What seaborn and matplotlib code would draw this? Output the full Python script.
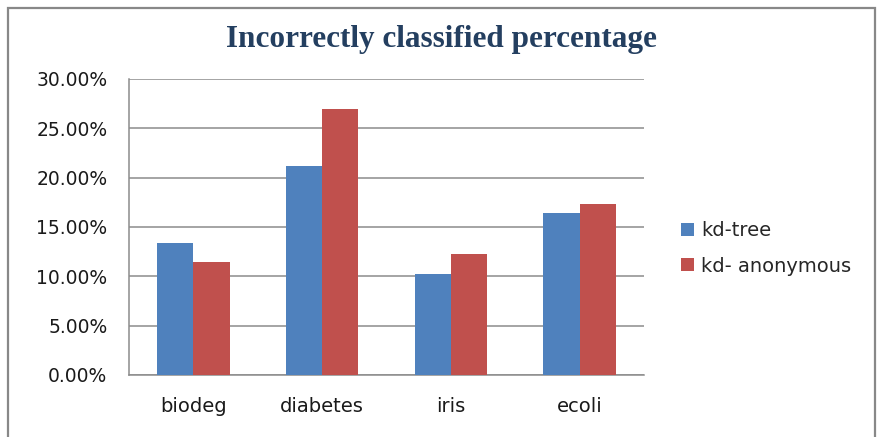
import matplotlib
matplotlib.use("Agg")
import matplotlib.pyplot as plt
import matplotlib.ticker as mticker
from matplotlib.patches import Rectangle
import seaborn as sns
import pandas as pd

# ---- data ----
categories = ["biodeg", "diabetes", "iris", "ecoli"]
series_names = ["kd-tree", "kd- anonymous"]
kd_tree = [13.4, 21.2, 10.2, 16.4]
kd_anonymous = [11.45, 27.0, 12.25, 17.3]
y_ticks = [0, 5, 10, 15, 20, 25, 30]
title_text = "Incorrectly classified percentage"

colors = ["#4F81BD", "#C0504D"]

df = pd.DataFrame({
    "category": categories * 2,
    "value": kd_tree + kd_anonymous,
    "series": [series_names[0]] * len(categories) + [series_names[1]] * len(categories),
})

sns.set_style("white")
plt.rcParams["font.family"] = ["DejaVu Sans"]

W, H = 878, 437
fig = plt.figure(figsize=(W / 100, H / 100), dpi=100)
fig.patch.set_facecolor("white")

ax = fig.add_axes([129 / W, 62 / H, (644 - 129) / W, (375 - 79) / H])

sns.barplot(data=df, x="category", y="value", hue="series", palette=colors,
            width=0.565, ax=ax, saturation=1, legend=True, zorder=3,
            linewidth=0, edgecolor="none")

ax.set_ylim(0, 30)
ax.set_yticks(y_ticks)
ax.yaxis.set_major_formatter(mticker.PercentFormatter(decimals=2))
ax.set_xlabel("")
ax.set_ylabel("")

grid_col = "#8C8C8C"
ax.yaxis.grid(True, color=grid_col, linewidth=1.1, zorder=0)
ax.set_axisbelow(True)
for s in ["top", "right"]:
    ax.spines[s].set_visible(False)
for s in ["left", "bottom"]:
    ax.spines[s].set_color(grid_col)
    ax.spines[s].set_linewidth(1.1)

ax.tick_params(axis="y", length=0, pad=15.5, labelsize=13.5, labelcolor="#1a1a1a")
ax.tick_params(axis="x", length=0, pad=16, labelsize=14, labelcolor="#1a1a1a")

# legend
handles, labels = ax.get_legend_handles_labels()
ax.get_legend().remove()
fig.legend(handles, labels, loc="center left",
           bbox_to_anchor=(681 / W, (H - 248.3) / H),
           frameon=False, fontsize=14, borderpad=0, borderaxespad=0,
           handlelength=0.67, handleheight=0.67, handletextpad=0.35,
           labelspacing=0.85)

# title
fig.text(441 / W, (H - 47.3) / H, title_text, ha="center", va="baseline",
         fontsize=22.5, fontweight="bold", color="#243F60",
         family=["Liberation Serif", "DejaVu Serif"])

# chart border
fig.patches.append(Rectangle((8 / W, -0.1), (875.5 - 8) / W, (H - 8.5) / H + 0.1,
                             transform=fig.transFigure, fill=False,
                             edgecolor="#888888", linewidth=1.6, zorder=0))

fig.savefig("out.png", dpi=100, facecolor="white")
